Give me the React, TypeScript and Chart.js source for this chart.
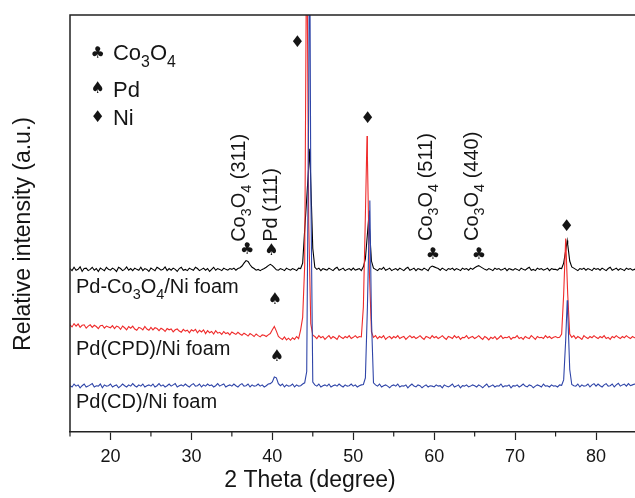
import React, { useEffect, useRef } from 'react';
import { Chart, registerables } from 'chart.js';

Chart.register(...registerables);

// ---------------- data ----------------
const X_START = 15;
const X_STEP = 0.25;
const X_MIN = 15;
const X_MAX = 85;
const X_LABELED_TICKS = [20, 30, 40, 50, 60, 70, 80];

const SERIES_NAMES = ['Pd(CD)/Ni foam', 'Pd(CPD)/Ni foam', 'Pd-Co3O4/Ni foam'];

// Pd-Co3O4/Ni foam (black), sampled every 0.25 deg from 15 to 85
const blackValues = [
  39.2, 38.7, 39.5, 38.8, 39.0, 39.6, 38.5, 39.2, 39.3, 38.7, 39.0, 39.5, 38.8, 39.2, 38.5, 39.3, 39.0, 38.7, 39.5, 39.0,
  38.8, 39.3, 39.0, 38.5, 39.5, 39.2, 38.7, 39.0, 39.6, 38.8, 39.2, 38.7, 39.3, 39.0, 38.8, 39.5, 38.7, 39.2, 39.0, 38.5,
  39.3, 39.0, 38.7, 39.5, 39.2, 38.8, 39.0, 39.6, 38.7, 39.2, 38.8, 39.3, 39.0, 38.5, 39.2, 39.5, 38.8, 39.0, 38.7, 39.3,
  39.0, 38.8, 39.5, 39.2, 38.7, 39.0, 39.3, 38.8, 39.2, 38.5, 39.0, 39.5, 38.8, 39.2, 39.0, 38.7, 39.3, 39.0, 38.8, 39.2,
  39.0, 39.3, 38.8, 39.2, 39.4, 39.8, 40.5, 41.1, 40.9, 40.1, 39.5, 39.2, 38.8, 39.0, 38.7, 39.0, 39.2, 39.5, 39.9, 40.2,
  39.9, 39.4, 38.9, 38.8, 39.2, 39.0, 38.7, 39.3, 39.0, 38.8, 39.2, 39.0, 38.7, 39.3, 39.2, 40.5, 48.5, 56.0, 63.8, 60.0,
  44.0, 39.5, 39.0, 39.3, 38.7, 39.2, 39.0, 38.8, 39.3, 39.0, 38.7, 39.2, 39.5, 38.8, 39.0, 39.3, 38.7, 39.0, 39.2, 38.8,
  39.3, 38.8, 39.0, 39.2, 38.7, 39.6, 41.5, 47.5, 49.0, 41.0, 39.3, 39.0, 38.7, 39.2, 39.0, 39.5, 38.8, 39.0, 39.3, 38.7,
  39.0, 39.2, 38.8, 39.3, 39.0, 38.7, 39.2, 39.5, 38.8, 39.0, 39.3, 38.7, 39.2, 39.0, 38.8, 39.3, 39.0, 38.7, 39.5, 39.8,
  39.6, 39.4, 39.2, 38.8, 39.3, 39.0, 38.7, 39.2, 39.0, 39.3, 38.8, 39.2, 39.0, 38.7, 39.3, 39.0, 39.2, 38.8, 39.3, 39.0,
  39.4, 39.7, 39.9, 39.6, 39.3, 39.0, 38.8, 39.2, 39.0, 38.7, 39.3, 39.0, 39.2, 38.8, 39.0, 39.3, 38.7, 39.2, 39.0, 38.8,
  39.2, 39.0, 38.7, 39.3, 39.0, 38.8, 39.2, 39.5, 38.8, 39.0, 38.7, 39.3, 39.0, 39.2, 38.8, 39.0, 39.3, 38.7, 39.2, 39.0,
  39.0, 38.8, 39.3, 39.2, 40.5, 43.5, 45.0, 41.0, 39.6, 39.3, 39.0, 38.7, 39.2, 39.0, 39.3, 38.8, 39.2, 39.0, 38.7, 39.3,
  39.0, 39.2, 38.8, 39.3, 39.0, 38.7, 39.2, 39.5, 38.8, 39.0, 39.3, 38.8, 39.2, 39.0, 38.7, 39.3, 39.0, 39.2, 38.8, 39.0,
  39.2,
];
const blackApex = [[44.63, 67.9], [51.9, 51.2], [76.44, 45.9]];

// Pd(CPD)/Ni foam (red)
const redValues = [
  25.7, 25.2, 26.0, 25.4, 25.9, 25.1, 25.6, 25.7, 24.9, 25.4, 25.7, 25.1, 25.6, 25.3, 24.8, 25.5, 25.6, 24.9, 25.4, 25.2,
  25.0, 25.5, 24.8, 25.4, 25.2, 24.6, 25.4, 25.0, 24.5, 25.3, 24.9, 25.4, 24.7, 24.4, 25.1, 24.9, 24.5, 25.3, 24.7, 24.4,
  25.1, 24.5, 25.0, 24.8, 24.3, 24.9, 24.6, 24.1, 24.8, 24.5, 24.7, 24.0, 24.5, 24.7, 24.2, 23.9, 24.6, 24.2, 24.4, 23.8,
  24.5, 24.2, 24.6, 23.8, 24.4, 24.0, 24.5, 23.6, 24.3, 23.8, 24.1, 23.5, 24.3, 23.7, 23.9, 23.4, 24.1, 23.6, 23.8, 23.3,
  24.0, 23.7, 23.4, 23.9, 23.5, 23.2, 23.7, 23.4, 23.0, 23.6, 23.3, 22.9, 23.5, 23.1, 22.8, 23.3, 23.2, 22.9, 23.3, 23.6,
  24.5, 25.3, 24.2, 22.9, 22.5, 22.2, 22.8, 22.1, 22.5, 22.0, 22.6, 22.2, 22.9, 22.4, 24.5, 27.5, 40.0, 125.0, 50.0, 26.0,
  23.2, 22.9, 22.4, 23.1, 22.6, 22.9, 22.2, 22.7, 23.1, 22.4, 22.9, 22.6, 22.2, 23.1, 22.7, 22.4, 22.9, 22.6, 23.1, 22.4,
  22.7, 23.1, 22.6, 22.9, 22.8, 30.0, 52.0, 66.0, 38.0, 24.0, 22.7, 23.1, 22.4, 22.9, 22.6, 23.1, 22.2, 22.7, 22.9, 22.4,
  22.9, 22.6, 23.1, 22.4, 22.7, 22.9, 22.2, 22.7, 23.1, 22.6, 22.9, 22.4, 22.7, 23.1, 22.6, 22.2, 22.9, 22.7, 22.4, 23.1,
  22.6, 22.9, 22.4, 22.7, 23.1, 22.6, 22.2, 22.9, 22.7, 22.4, 23.1, 22.6, 22.9, 22.2, 22.7, 22.6, 23.1, 22.4, 22.7, 22.9,
  22.4, 22.7, 23.1, 22.6, 22.2, 22.9, 22.6, 22.1, 22.7, 22.4, 22.9, 22.2, 22.6, 23.1, 22.4, 22.7, 22.6, 22.9, 22.2, 22.7,
  22.6, 23.1, 22.4, 22.7, 22.2, 22.9, 22.6, 22.4, 23.1, 22.7, 22.2, 22.9, 22.6, 22.7, 22.4, 23.1, 22.6, 22.9, 22.4, 22.7,
  22.9, 22.6, 22.7, 23.5, 33.0, 46.4, 33.0, 23.5, 22.7, 23.1, 22.4, 22.9, 22.6, 22.2, 23.1, 22.7, 22.4, 22.9, 22.6, 23.1,
  22.7, 22.4, 22.9, 22.6, 23.1, 22.4, 22.7, 22.2, 22.9, 22.6, 23.1, 22.7, 22.4, 22.9, 22.6, 23.1, 22.7, 22.4, 22.9, 22.6,
  22.7,
];
const redApex = [[51.7, 71.0]];

// Pd(CD)/Ni foam (blue)
const blueValues = [
  11.1, 10.8, 11.5, 11.0, 11.3, 10.6, 11.1, 11.5, 10.8, 11.0, 11.3, 11.6, 10.8, 11.1, 11.0, 11.5, 10.6, 11.3, 11.0, 11.1,
  11.5, 10.8, 11.1, 11.3, 10.6, 11.0, 11.5, 11.1, 10.8, 11.3, 11.0, 11.6, 11.1, 10.8, 11.3, 11.0, 11.5, 10.8, 11.1, 11.3,
  11.0, 11.5, 10.8, 11.1, 11.6, 11.0, 11.3, 10.8, 11.1, 11.5, 11.0, 11.3, 11.6, 10.8, 11.1, 11.3, 11.0, 11.5, 11.1, 10.8,
  11.3, 11.6, 11.0, 11.1, 11.5, 10.8, 11.3, 11.0, 11.5, 11.1, 11.3, 10.8, 11.1, 11.6, 11.0, 11.3, 11.5, 10.8, 11.1, 11.3,
  11.0, 11.5, 11.1, 10.8, 11.3, 11.6, 11.0, 11.1, 11.5, 10.8, 11.3, 11.0, 11.1, 11.5, 11.0, 11.3, 10.8, 11.1, 11.5, 11.6,
  12.0, 13.2, 13.0, 11.6, 11.1, 11.5, 10.8, 11.3, 11.0, 11.1, 11.5, 10.8, 11.3, 11.0, 11.1, 11.5, 11.8, 14.5, 80.0, 60.0,
  12.0, 11.3, 11.0, 11.5, 10.8, 11.1, 11.3, 11.0, 11.5, 10.8, 11.1, 11.3, 11.0, 11.5, 11.1, 10.8, 11.3, 11.0, 11.1, 11.5,
  11.0, 11.3, 10.8, 11.1, 11.3, 11.4, 13.0, 30.0, 53.0, 27.0, 11.8, 11.3, 11.0, 11.5, 10.8, 11.1, 11.3, 11.0, 10.6, 11.1,
  11.3, 11.0, 11.5, 10.8, 11.1, 11.0, 11.3, 10.6, 11.1, 11.5, 11.0, 10.8, 11.3, 11.1, 10.6, 11.0, 11.3, 10.8, 11.1, 11.0,
  10.8, 11.3, 11.0, 11.1, 10.6, 11.3, 11.0, 10.8, 11.1, 11.5, 10.8, 11.0, 11.3, 10.6, 11.1, 11.0, 11.3, 10.8, 11.0, 11.3,
  11.1, 10.8, 11.3, 11.0, 10.6, 11.1, 11.5, 10.8, 11.0, 11.3, 10.8, 11.1, 11.0, 11.5, 10.8, 11.1, 11.0, 11.3, 10.6, 11.1,
  11.0, 11.3, 10.8, 11.1, 11.5, 11.0, 10.8, 11.3, 11.1, 10.6, 11.0, 11.3, 11.1, 10.8, 11.5, 11.0, 11.1, 10.8, 11.3, 11.0,
  11.1, 10.8, 11.3, 11.2, 12.5, 22.0, 29.0, 15.0, 11.4, 11.1, 11.0, 11.5, 10.8, 11.3, 11.0, 11.1, 11.5, 10.8, 11.3, 11.6,
  11.0, 11.5, 11.1, 10.8, 11.3, 11.6, 11.0, 11.1, 11.5, 10.8, 11.3, 11.7, 11.0, 11.3, 11.5, 11.0, 11.6, 11.1, 11.3, 11.5,
  11.3,
];
const blueApex = [[44.6, 130.0], [52.05, 55.5], [76.44, 31.6]];

// ---------------- helpers ----------------
function buildPoints(values: number[], apex: number[][]) {
  const pts = values.map((y, i) => ({ x: X_START + i * X_STEP, y }));
  apex.forEach(([x, y]) => pts.push({ x, y }));
  pts.sort((a, b) => a.x - b.x);
  return pts;
}

const FONT = '"Liberation Sans", Arial, Helvetica, sans-serif';
const SYM_FONT = '"DejaVu Sans", sans-serif';
const TEXT = '#151515';

type Part = { t: string; sub?: boolean };
const CO3O4: Part[] = [{ t: 'Co' }, { t: '3', sub: true }, { t: 'O' }, { t: '4', sub: true }];

function drawRich(ctx: CanvasRenderingContext2D, parts: Part[], x: number, y: number, size: number, rotate = false) {
  ctx.save();
  ctx.translate(x, y);
  if (rotate) ctx.rotate(-Math.PI / 2);
  ctx.textAlign = 'left';
  ctx.textBaseline = 'alphabetic';
  ctx.fillStyle = TEXT;
  let cx = 0;
  for (const p of parts) {
    const s = p.sub ? size * 0.72 : size;
    ctx.font = `${s}px ${FONT}`;
    ctx.fillText(p.t, cx, p.sub ? size * 0.3 : 0);
    cx += ctx.measureText(p.t).width;
  }
  ctx.restore();
}

const overlayPlugin = {
  id: 'xrdOverlay',
  afterDraw(chart: any) {
    const { ctx, chartArea } = chart;
    const xs = chart.scales.x;
    const ys = chart.scales.y;
    const px = (v: number) => xs.getPixelForValue(v);
    const py = (v: number) => ys.getPixelForValue(v);

    ctx.save();
    // frame: left + top
    ctx.strokeStyle = '#222';
    ctx.lineWidth = 1.5;
    ctx.beginPath();
    ctx.moveTo(chartArea.left, chartArea.bottom);
    ctx.lineTo(chartArea.left, chartArea.top);
    ctx.lineTo(chartArea.right + 20, chartArea.top);
    ctx.stroke();

    // minor ticks
    ctx.lineWidth = 1.2;
    for (let v = X_MIN; v <= X_MAX; v += 10) {
      const x = px(v);
      ctx.beginPath();
      ctx.moveTo(x, chartArea.bottom);
      ctx.lineTo(x, chartArea.bottom + 4.5);
      ctx.stroke();
    }

    // axis titles
    ctx.fillStyle = TEXT;
    ctx.font = `23px ${FONT}`;
    ctx.textAlign = 'center';
    ctx.textBaseline = 'alphabetic';
    ctx.fillText('2 Theta (degree)', 310, 487);
    ctx.save();
    ctx.translate(30, 234);
    ctx.rotate(-Math.PI / 2);
    ctx.fillText('Relative intensity (a.u.)', 0, 0);
    ctx.restore();

    // legend (phase symbols)
    ctx.font = `16px ${SYM_FONT}`;
    ctx.textAlign = 'center';
    ctx.textBaseline = 'middle';
    ctx.fillText('\u2663', px(18.42), py(90.8));
    ctx.fillText('\u2660', px(18.42), py(82.3));
    ctx.fillText('\u2666', px(18.42), py(75.3));
    drawRich(ctx, CO3O4, px(20.31), py(89.2), 22);
    drawRich(ctx, [{ t: 'Pd' }], px(20.31), py(80.4), 22);
    drawRich(ctx, [{ t: 'Ni' }], px(20.31), py(73.6), 22);

    // peak markers
    ctx.font = `16px ${SYM_FONT}`;
    ctx.textAlign = 'center';
    ctx.textBaseline = 'middle';
    ctx.fillStyle = TEXT;
    const marks: [string, number, number][] = [
      ['\u2666', 43.09, 93.3],
      ['\u2666', 51.79, 75.1],
      ['\u2666', 76.36, 49.2],
      ['\u2663', 36.89, 43.8],
      ['\u2660', 39.9, 43.5],
      ['\u2660', 40.31, 31.7],
      ['\u2660', 40.56, 18.0],
      ['\u2663', 59.85, 42.4],
      ['\u2663', 65.53, 42.4],
    ];
    marks.forEach(([c, x, y]) => ctx.fillText(c, px(x), py(y)));

    // rotated peak labels
    drawRich(ctx, [...CO3O4, { t: ' (311)' }], px(36.6), py(45.6), 20, true);
    drawRich(ctx, [{ t: 'Pd (111)' }], px(40.56), py(45.6), 20, true);
    drawRich(ctx, [...CO3O4, { t: ' (511)' }], px(59.69), py(45.8), 20, true);
    drawRich(ctx, [...CO3O4, { t: ' (440)' }], px(65.37), py(45.8), 20, true);

    // series labels
    drawRich(ctx, [{ t: 'Pd-Co' }, { t: '3', sub: true }, { t: 'O' }, { t: '4', sub: true }, { t: '/Ni foam' }], px(15.74), py(33.3), 20);
    drawRich(ctx, [{ t: SERIES_NAMES[1] }], px(15.74), py(18.5), 20);
    drawRich(ctx, [{ t: SERIES_NAMES[0] }], px(15.74), py(5.8), 20);

    ctx.restore();
  },
};

export default function App() {
  const ref = useRef<HTMLCanvasElement | null>(null);

  useEffect(() => {
    if (!ref.current) return;
    const chart = new Chart(ref.current, {
      type: 'scatter',
      data: {
        datasets: [
          {
            label: SERIES_NAMES[0],
            data: buildPoints(blueValues, blueApex),
            borderColor: '#2f45a8',
            borderWidth: 1.1,
            showLine: true,
            pointRadius: 0,
            tension: 0,
          },
          {
            label: SERIES_NAMES[1],
            data: buildPoints(redValues, redApex),
            borderColor: '#ef2b2b',
            borderWidth: 1.1,
            showLine: true,
            pointRadius: 0,
            tension: 0,
          },
          {
            label: SERIES_NAMES[2],
            data: buildPoints(blackValues, blackApex),
            borderColor: '#000000',
            borderWidth: 1.1,
            showLine: true,
            pointRadius: 0,
            tension: 0,
          },
        ],
      },
      options: {
        animation: false,
        responsive: false,
        devicePixelRatio: 1,
        layout: { padding: { left: 70, top: 15, right: 23.5, bottom: 0 } },
        plugins: { legend: { display: false }, tooltip: { enabled: false } },
        scales: {
          x: {
            type: 'linear',
            min: X_MIN,
            max: X_MAX,
            afterFit: (s: any) => {
              s.height = 66;
            },
            border: { display: true, color: '#222', width: 1.5 },
            grid: {
              display: true,
              drawOnChartArea: false,
              drawTicks: true,
              tickLength: 8,
              tickWidth: 1.2,
              tickColor: (c: any) =>
                c.tick && X_LABELED_TICKS.includes(c.tick.value) ? '#222' : 'rgba(0,0,0,0)',
            },
            ticks: {
              stepSize: 5,
              autoSkip: false,
              maxRotation: 0,
              padding: 6,
              color: TEXT,
              font: { family: FONT, size: 18 },
              callback: (v: any) => (X_LABELED_TICKS.includes(Number(v)) ? String(v) : ''),
            },
          },
          y: { type: 'linear', min: 0, max: 100, display: false },
        },
      },
      plugins: [overlayPlugin],
    } as any);
    return () => chart.destroy();
  }, []);

  return (
    <div
      style={{
        position: 'fixed',
        left: 0,
        top: 0,
        width: 635,
        height: 498,
        overflow: 'hidden',
        background: '#fff',
      }}
    >
      <canvas ref={ref} width={660} height={498} style={{ display: 'block', width: 660, height: 498 }} />
    </div>
  );
}
